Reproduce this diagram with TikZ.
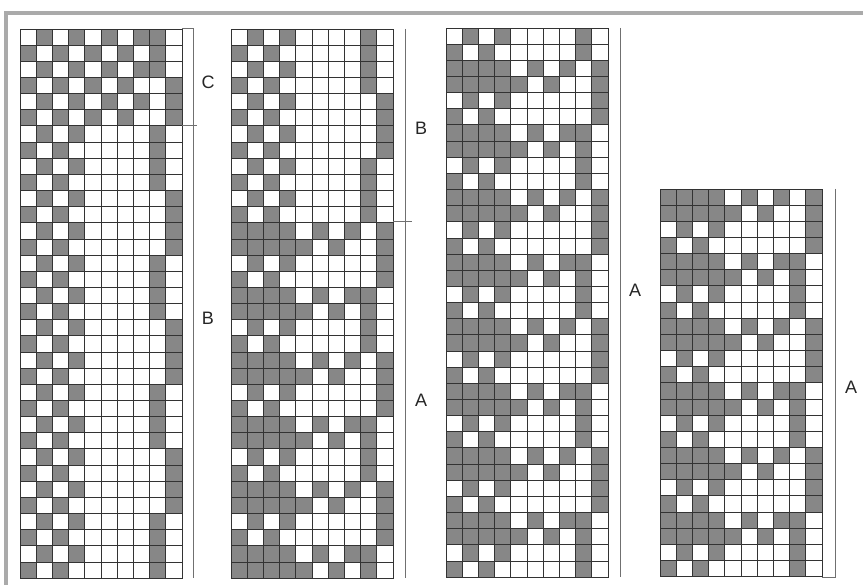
\documentclass[tikz,border=0pt]{standalone}
\usepackage{fontspec}
\setmainfont{Liberation Sans}
\definecolor{cellgray}{HTML}{878787}
\definecolor{framegray}{HTML}{AAAAAA}
\definecolor{linegray}{HTML}{707070}
\tikzset{
  gcell/.style={fill=cellgray, draw=black!80, line width=0.8pt},
  wcell/.style={fill=white, draw=black!80, line width=0.8pt},
  bracket/.style={draw=linegray, line width=1pt},
  lbl/.style={font=\fontsize{18}{18}\selectfont, text=black!85, inner sep=0pt},
  frameline/.style={draw=framegray, line width=4pt}
}
\def\pata{0,1,0,1,0,0,0,0}
\def\patb{1,0,1,0,0,0,0,0}
\def\patc{1,1,1,1,0,1,0,1}
\def\patd{1,1,1,1,1,0,1,0}
\def\pate{0,1,0,1,0,1,0,1}
\def\patf{1,0,1,0,1,0,1,0}
\def\tailL{1,0}
\def\tailR{0,1}
\newcommand\drawchart[3]{%
  \foreach \pa/\ta [count=\ri] in {#3} {%
    \edef\currow{\csname pat\pa\endcsname,\csname tail\ta\endcsname}%
    \foreach \vb [count=\ci] in \currow {%
      \ifnum\vb=1
        \path[gcell] ({#1+(\ci-1)*16.2},{#2+(\ri-1)*16.15}) rectangle ++(16.2,16.15);
      \else
        \path[wcell] ({#1+(\ci-1)*16.2},{#2+(\ri-1)*16.15}) rectangle ++(16.2,16.15);
      \fi
    }%
  }%
}
\begin{document}
\begin{tikzpicture}[x=1pt,y=-1pt]
\useasboundingbox (0,0) rectangle (863,585);
\fill[white] (0,0) rectangle (863,585);
% frame
\draw[frameline] (6,585) -- (6,12.7) -- (863,12.7);
% grid 1
\drawchart{20}{29}{e/L,f/L,e/L,f/R,e/R,f/R,
  a/L,b/L,a/L,b/L, a/R,b/R,a/R,b/R, a/L,b/L,a/L,b/L, a/R,b/R,a/R,b/R,
  a/L,b/L,a/L,b/L, a/R,b/R,a/R,b/R, a/L,b/L,a/L,b/L}
% grid 2
\drawchart{231}{29}{a/L,b/L,a/L,b/L, a/R,b/R,a/R,b/R, a/L,b/L,a/L,b/L,
  c/R,d/R,a/R,b/R, c/L,d/L,a/L,b/L, c/R,d/R,a/R,b/R, c/L,d/L,a/L,b/L,
  c/R,d/R,a/R,b/R, c/L,d/L}
% grid 3
\drawchart{446}{28}{a/L,b/L,
  c/R,d/R,a/R,b/R, c/L,d/L,a/L,b/L, c/R,d/R,a/R,b/R, c/L,d/L,a/L,b/L,
  c/R,d/R,a/R,b/R, c/L,d/L,a/L,b/L, c/R,d/R,a/R,b/R, c/L,d/L,a/L,b/L}
% grid 4
\drawchart{660}{189}{c/R,d/R,a/R,b/R, c/L,d/L,a/L,b/L, c/R,d/R,a/R,b/R,
  c/L,d/L,a/L,b/L, c/R,d/R,a/R,b/R, c/L,d/L,a/L,b/L}
% brackets
\coordinate (g1t) at (193,29);
\coordinate (g1b) at (193,578);
\coordinate (g1ma) at (182,126);
\coordinate (g1mb) at (197,126);
\coordinate (g1ta) at (182,29);
\draw[bracket] (g1ta) -- (g1t) -- (g1b);
\draw[bracket] (g1ma) -- (g1mb);
\node[lbl] (labC) at (208,82) {C};
\node[lbl] (labB1) at (208,318) {B};
\coordinate (g2t) at (405,29);
\coordinate (g2b) at (405,578);
\coordinate (g2ma) at (393,222);
\coordinate (g2mb) at (412,222);
\draw[bracket] (g2t) -- (g2b);
\draw[bracket] (g2ma) -- (g2mb);
\node[lbl] (labB2) at (421,128) {B};
\node[lbl] (labA2) at (421,400) {A};
\coordinate (g3t) at (620,28);
\coordinate (g3b) at (620,577);
\draw[bracket] (g3t) -- (g3b);
\node[lbl] (labA3) at (635,290) {A};
\coordinate (g4t) at (835,189);
\coordinate (g4b) at (835,577);
\coordinate (g4ba) at (822,577);
\draw[bracket] (g4t) -- (g4b) -- (g4ba);
\node[lbl] (labA4) at (851,387) {A};
\end{tikzpicture}
\end{document}
